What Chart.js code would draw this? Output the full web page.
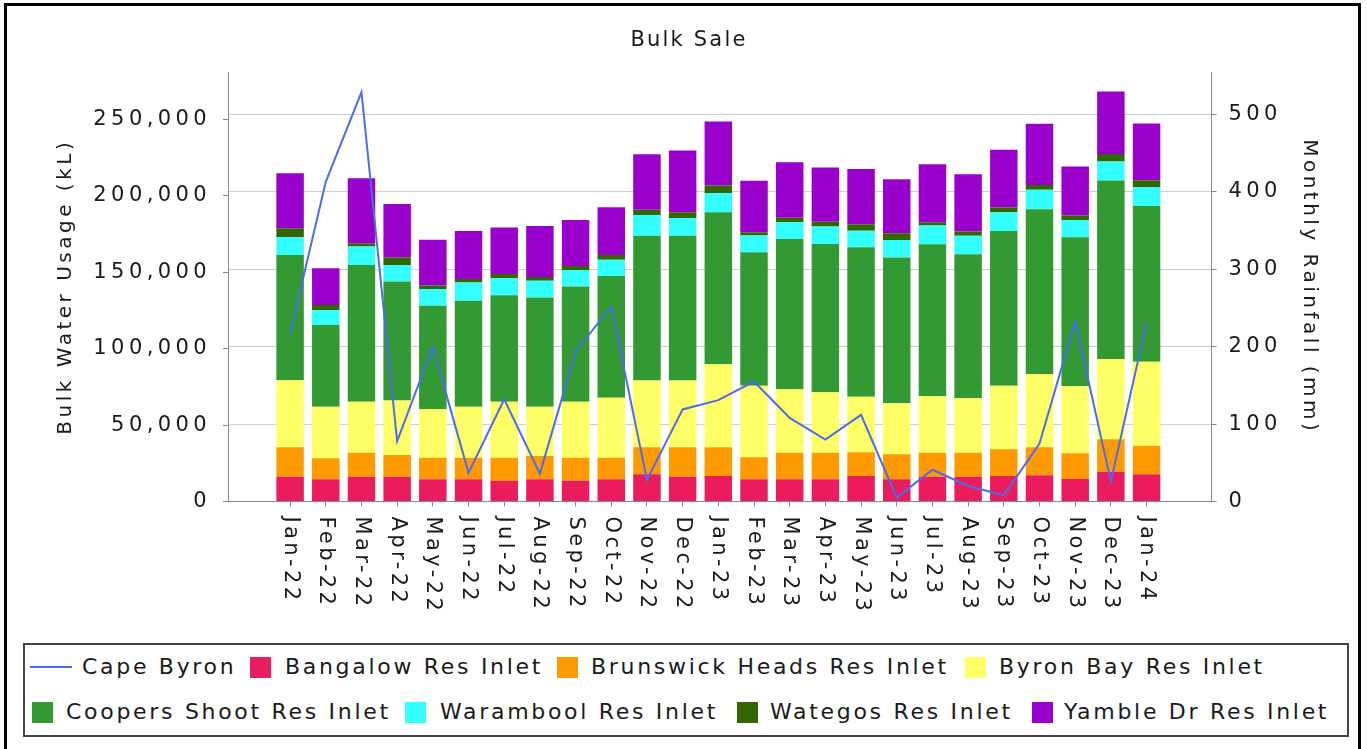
<!DOCTYPE html>
<html>
<head>
<meta charset="utf-8">
<script src="https://cdn.jsdelivr.net/npm/chart.js@4.4.1/dist/chart.umd.min.js"></script>
<style>
  html, body { margin: 0; padding: 0; background: #fff; overflow: hidden; }
  body { width: 1367px; height: 749px; position: relative; font-family: "DejaVu Sans", sans-serif; }
  #frame { position: absolute; left: 4px; top: 3px; width: 1357px; height: 800px; border: 3px solid #000; box-sizing: border-box; }
  #wrap { position: absolute; left: 0; top: 0; width: 1367px; height: 640px; }
  #legendBox { position: absolute; left: 23px; top: 643px; width: 1326px; height: 94px; border: 2px solid #444; box-sizing: border-box; }
  .lg { position: absolute; font-size: 22px; letter-spacing: 2.7px; line-height: 24px; color: #1a1a1a; white-space: nowrap; }
  .sw { position: absolute; width: 21px; height: 21px; }
  .ln { position: absolute; height: 2px; }
</style>
</head>
<body>
<div id="frame"></div>
<div id="wrap"><canvas id="c" width="1367" height="640"></canvas></div>
<div id="legendBox"></div>
<div id="legend"></div>
<script>
// ---- data ----
const TITLE = 'Bulk Sale';
const Y_LEFT_TITLE = 'Bulk Water Usage (kL)';
const Y_RIGHT_TITLE = 'Monthly Rainfall (mm)';
const months = ['Jan-22','Feb-22','Mar-22','Apr-22','May-22','Jun-22','Jul-22','Aug-22','Sep-22','Oct-22','Nov-22','Dec-22',
                'Jan-23','Feb-23','Mar-23','Apr-23','May-23','Jun-23','Jul-23','Aug-23','Sep-23','Oct-23','Nov-23','Dec-23','Jan-24'];
const seriesNames = ['Cape Byron','Bangalow Res Inlet','Brunswick Heads Res Inlet','Byron Bay Res Inlet',
                     'Coopers Shoot Res Inlet','Warambool Res Inlet','Wategos Res Inlet','Yamble Dr Res Inlet'];
const rainfall  = [217,413,529,78,200,37,132,36,194,252,28,119,131,155,108,80,112,5,41,20,8,75,233,26,231];
const bangalow  = [16200,14500,16200,16200,14500,14500,13400,14500,13600,14500,17800,16200,16700,14500,14500,14500,16700,14500,16200,16200,16700,17100,14700,19500,17800];
const brunswick = [19300,13800,15700,14200,14200,14200,15300,15300,15100,14200,17700,19300,18800,14400,17400,17400,15500,16400,15700,15700,17500,18400,16900,21200,18700];
const byronBay  = [44000,33700,33400,35600,31600,33300,36600,32200,36600,39200,43600,43600,54500,46900,41500,39600,36400,33400,37100,35600,41600,47900,44000,52600,55000];
const coopers   = [81800,53500,89500,77900,67700,69400,69700,71400,75300,79700,94700,94700,99300,87300,98400,97000,97800,95300,99300,94300,101200,107800,97300,116700,101900];
const warambool = [11600,9800,12000,10900,11100,11800,11100,11100,10900,10500,13700,11600,12400,10900,10900,11400,10800,11500,12200,12000,12300,12700,11300,12400,12400];
const wategos   = [5900,3300,2200,4800,2200,2400,2800,2400,2600,3200,3300,3900,5000,2200,3000,3200,4200,4400,2200,2800,3000,3200,2900,5000,4400];
const yamble    = [36000,24000,42500,35100,29900,31400,30300,33400,30100,31200,36400,40300,41900,33600,36300,35400,36200,35400,38000,37500,37800,40000,32000,40800,37100];
const leftTicks = [0,50000,100000,150000,200000,250000];
const rightTicks = [0,100,200,300,400,500];

// ---- styles ----
const colors = ['#4a6cf0','#ea1c5c','#ff9a00','#ffff66','#339933','#33ffff','#336600','#9900cc'];
const barSeries = [bangalow, brunswick, byronBay, coopers, warambool, wategos, yamble];
const TXT = '#1a1a1a';

const datasets = [{
  type: 'line', label: seriesNames[0], data: rainfall, yAxisID: 'y1', order: 0,
  borderColor: colors[0], backgroundColor: colors[0], borderWidth: 2, pointRadius: 0, tension: 0
}];
barSeries.forEach((s, k) => datasets.push({
  type: 'bar', label: seriesNames[k + 1], data: s, yAxisID: 'y', order: 1,
  backgroundColor: colors[k + 1], borderWidth: 0, barPercentage: 0.77, categoryPercentage: 1
}));

const FONT = '"DejaVu Sans"';
const textPlugin = {
  id: 'texts',
  beforeDraw(chart) { chart.ctx.letterSpacing = '4.4px'; },
  afterDraw(chart) {
    const ctx = chart.ctx, xs = chart.scales.x, area = chart.chartArea;
    ctx.save();
    ctx.fillStyle = TXT;
    ctx.textBaseline = 'middle';
    // title
    ctx.font = '21px ' + FONT; ctx.letterSpacing = '2.2px'; ctx.textAlign = 'center';
    ctx.fillText(TITLE, 689, 41);
    // x labels (rotated clockwise)
    ctx.font = '21px ' + FONT; ctx.letterSpacing = '3.4px'; ctx.textAlign = 'left';
    months.forEach((m, i) => {
      const px = xs.getPixelForValue(i);
      ctx.save(); ctx.translate(px, area.bottom + 15); ctx.rotate(Math.PI / 2);
      ctx.fillText(m, 0, 0); ctx.restore();
    });
    // axis titles
    ctx.font = '20px ' + FONT; ctx.letterSpacing = '3.5px'; ctx.textAlign = 'center';
    const cy = (area.top + area.bottom) / 2;
    ctx.save(); ctx.translate(66, cy); ctx.rotate(-Math.PI / 2); ctx.fillText(Y_LEFT_TITLE, 0, 0); ctx.restore();
    ctx.save(); ctx.translate(1309, cy); ctx.rotate(Math.PI / 2); ctx.fillText(Y_RIGHT_TITLE, 0, 0); ctx.restore();
    ctx.restore();
  }
};

new Chart(document.getElementById('c'), {
  type: 'bar',
  data: { labels: months.map((_, i) => i), datasets },
  options: {
    responsive: false, animation: false,
    layout: { padding: { top: 72, left: 0, right: 0, bottom: 0 } },
    plugins: { legend: { display: false }, title: { display: false }, tooltip: { enabled: false } },
    scales: {
      x: {
        type: 'linear', stacked: true, offset: false, min: -1.74, max: 25.82,
        afterFit(s) { s.height = 138.5; },
        afterBuildTicks(s) { s.ticks = months.map((_, i) => ({ value: i })); },
        ticks: { display: false },
        grid: { offset: false, drawOnChartArea: false, drawTicks: true, tickLength: 5, color: '#888', tickColor: '#888' },
        border: { display: true, color: '#888', width: 1 }
      },
      y: {
        position: 'left', stacked: true, min: 0, max: 281000,
        afterFit(s) { s.width = 228; },
        afterBuildTicks(s) { s.ticks = leftTicks.map(v => ({ value: v })); },
        ticks: { color: TXT, font: { family: 'DejaVu Sans', size: 21 }, padding: 12,
                 callback: v => v.toLocaleString('en-US') },
        grid: { drawOnChartArea: false, drawTicks: true, tickLength: 5, color: '#888', tickColor: '#888' },
        border: { display: true, color: '#888', width: 1 }
      },
      y1: {
        position: 'right', stacked: false, min: 0, max: 555,
        afterFit(s) { s.width = 155.5; },
        afterBuildTicks(s) { s.ticks = rightTicks.map(v => ({ value: v })); },
        ticks: { color: TXT, font: { family: 'DejaVu Sans', size: 21 }, padding: 12 },
        grid: { drawOnChartArea: true, drawTicks: true, tickLength: 5, color: '#cfcfcf',
                borderDash: [3, 5], tickColor: '#888', tickBorderDash: [] },
        border: { display: true, color: '#888', width: 1 }
      }
    }
  },
  plugins: [textPlugin]
});

// ---- legend (HTML) ----
const legendPos = [
  { sx: 30, tx: 82, y: 667 }, { sx: 250, tx: 285, y: 667 }, { sx: 557, tx: 591, y: 667 }, { sx: 965, tx: 999, y: 667 },
  { sx: 32, tx: 66, y: 712 }, { sx: 405, tx: 440, y: 712 }, { sx: 737, tx: 770, y: 712 }, { sx: 1032, tx: 1064, y: 712 }
];
const lg = document.getElementById('legend');
seriesNames.forEach((name, i) => {
  const p = legendPos[i];
  const sym = document.createElement('div');
  if (i === 0) { sym.className = 'ln'; sym.style.left = p.sx + 'px'; sym.style.top = (p.y - 1) + 'px'; sym.style.width = '42px'; }
  else { sym.className = 'sw'; sym.style.left = p.sx + 'px'; sym.style.top = (p.y - 10.5) + 'px'; }
  sym.style.background = colors[i];
  lg.appendChild(sym);
  const t = document.createElement('div');
  t.className = 'lg'; t.textContent = name; t.style.left = p.tx + 'px'; t.style.top = (p.y - 12) + 'px';
  lg.appendChild(t);
});
</script>
</body>
</html>
